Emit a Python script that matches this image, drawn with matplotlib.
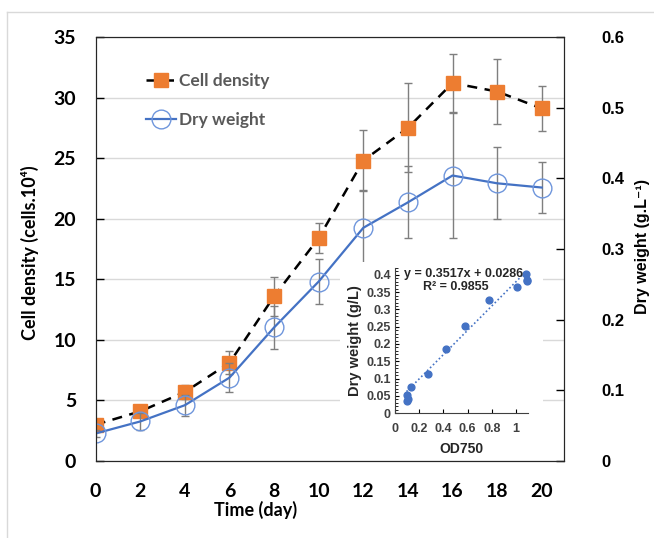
import matplotlib.pyplot as plt
from matplotlib.ticker import MultipleLocator, FuncFormatter
from matplotlib.patches import Rectangle
from matplotlib.lines import Line2D

# growth curve
days = [0, 2, 4, 6, 8, 10, 12, 14, 16, 18, 20]
cell_density = [3.0, 4.1, 5.7, 8.1, 13.6, 18.4, 24.8, 27.5, 31.2, 30.5, 29.1]
cell_err = [0.3, 0.3, 0.6, 0.95, 1.6, 1.27, 2.5, 3.67, 2.4, 2.65, 1.88]
dry_weight = [0.039, 0.056, 0.079, 0.118, 0.189, 0.254, 0.330, 0.366, 0.404, 0.393, 0.387]
dry_err = [0.005, 0.012, 0.015, 0.021, 0.03, 0.032, 0.053, 0.051, 0.089, 0.051, 0.036]

# calibration inset
od750 = [0.095, 0.10, 0.105, 0.134, 0.271, 0.425, 0.581, 0.777, 1.006, 1.081, 1.089, 1.09]
dw_calib = [0.035, 0.051, 0.041, 0.075, 0.114, 0.185, 0.252, 0.328, 0.365, 0.403, 0.386, 0.382]
slope, intercept, r2 = 0.3517, 0.0286, 0.9855

calibri = ["Lato", "DejaVu Sans"]
arial = ["Liberation Sans", "DejaVu Sans"]
orange = "#ED7D31"
blue = "#4472C4"
errc = "#7f7f7f"

fig = plt.figure(figsize=(6.54, 5.38), dpi=100)

# light chart-area border
fig.add_artist(Line2D([7 / 654, 7 / 654], [0, 1 - 12 / 538], color="#d9d9d9", lw=1))
fig.add_artist(Line2D([7 / 654, 1], [1 - 12 / 538, 1 - 12 / 538], color="#d9d9d9", lw=1))

ax = fig.add_axes([0.1463, 0.1431, 0.7161, 0.7881])
ax.set_xlim(0, 21)
ax.set_ylim(0, 35)
ax.set_xticks(days)
ax.set_yticks(range(0, 36, 5))
ax.grid(axis="y", color="#d9d9d9", lw=1)
ax.set_axisbelow(True)
ax.tick_params(axis="y", direction="in", length=6, width=1, pad=14)
ax.tick_params(axis="x", length=0, pad=15.5)
for lab in ax.get_xticklabels() + ax.get_yticklabels():
    lab.set_fontfamily(calibri)
    lab.set_fontweight("bold")
    lab.set_fontsize(14)
for s in ax.spines.values():
    s.set_color("#262626")

ax.errorbar(days, cell_density, yerr=cell_err, fmt="none", ecolor=errc,
            elinewidth=1, capsize=3, capthick=1)
ax.plot(days, cell_density, color="black", lw=1.8, dashes=(4, 3),
        marker="s", ms=10, mfc=orange, mec=orange, label="Cell density")

ax2 = ax.twinx()
ax2.set_zorder(1)
ax2.set_ylim(0, 0.6)
ax2.set_yticks([0, 0.1, 0.2, 0.3, 0.4, 0.5, 0.6])
ax2.yaxis.set_major_formatter(FuncFormatter(lambda v, p: "%g" % round(v, 2)))
ax2.tick_params(axis="y", direction="in", length=6, width=1, pad=27)
for lab in ax2.get_yticklabels():
    lab.set_fontfamily(arial)
    lab.set_fontweight("bold")
    lab.set_fontsize(12)
for s in ax2.spines.values():
    s.set_color("#262626")

ax2.errorbar(days, dry_weight, yerr=dry_err, fmt="none", ecolor=errc,
             elinewidth=1, capsize=3, capthick=1)
ax2.plot(days, dry_weight, color=blue, lw=1.6, marker="o", ms=13.5,
         mfc="none", mec="#6f96dc", mew=1, label="Dry weight")

h1, l1 = ax.get_legend_handles_labels()
h2, l2 = ax2.get_legend_handles_labels()
leg = ax2.legend(h1 + h2, l1 + l2, loc="upper left", bbox_to_anchor=(0.108, 0.915),
                 frameon=False, borderaxespad=0, borderpad=0, handlelength=1.7,
                 handletextpad=0.2, labelspacing=1.3,
                 prop={"family": calibri, "weight": "bold", "size": 12.5})
for t in leg.get_texts():
    t.set_color("#595959")

fig.text(30 / 654, 1 - 253 / 538, "Cell density (cells.10⁴)", rotation=90,
         ha="center", va="center", family=calibri, weight="bold", fontsize=13)
fig.text(642 / 654, 1 - 247 / 538, "Dry weight (g.L⁻¹)", rotation=90,
         ha="center", va="center", family=arial, weight="bold", fontsize=11.5)
fig.text(256 / 654, 1 - 510 / 538, "Time (day)", ha="center", va="center",
         family=calibri, weight="bold", fontsize=13)

# white backing for inset
fig.add_artist(Rectangle((340 / 654, 1 - 456 / 538), 203 / 654, 194 / 538,
                         transform=fig.transFigure, facecolor="white",
                         edgecolor="none", zorder=1.5))

axi = fig.add_axes([0.604, 0.2323, 0.2034, 0.2695], zorder=2)
axi.set_xlim(0, 1.1)
axi.set_ylim(0, 0.42)
axi.spines["top"].set_visible(False)
axi.spines["right"].set_visible(False)
for s in ("left", "bottom"):
    axi.spines[s].set_color("#404040")
axi.xaxis.set_major_locator(MultipleLocator(0.2))
axi.yaxis.set_major_locator(MultipleLocator(0.05))
axi.yaxis.set_minor_locator(MultipleLocator(0.01))
fmt = FuncFormatter(lambda v, p: "%g" % round(v, 2))
axi.xaxis.set_major_formatter(fmt)
axi.yaxis.set_major_formatter(fmt)
axi.tick_params(which="major", direction="in", length=3, width=0.8,
                labelsize=9, labelcolor="#404040", pad=3)
axi.tick_params(which="minor", direction="in", length=2, width=0.6)
axi.tick_params(axis="x", pad=7)
for lab in axi.get_xticklabels() + axi.get_yticklabels():
    lab.set_fontfamily(arial)
    lab.set_fontweight("bold")

xs = [min(od750), max(od750)]
axi.plot(xs, [slope * x + intercept for x in xs], color=blue, lw=1.2, ls=(0, (1, 1.5)))
axi.scatter(od750, dw_calib, s=24, color=blue, zorder=3, clip_on=False)
axi.text(0.068, 0.96, "y = %.4fx + %.4f" % (slope, intercept), transform=axi.transAxes,
         ha="left", va="center", family=arial, weight="bold", fontsize=9, color="#262626")
axi.text(0.46, 0.87, "R² = %.4f" % r2, transform=axi.transAxes,
         ha="center", va="center", family=arial, weight="bold", fontsize=9, color="#262626")
axi.set_xlabel("OD750", family=arial, weight="bold", fontsize=10, color="#262626", labelpad=5)
axi.set_ylabel("Dry weight (g/L)", family=arial, weight="bold", fontsize=10.5, color="#262626",
               labelpad=3)

fig.savefig("out.png", dpi=100)
